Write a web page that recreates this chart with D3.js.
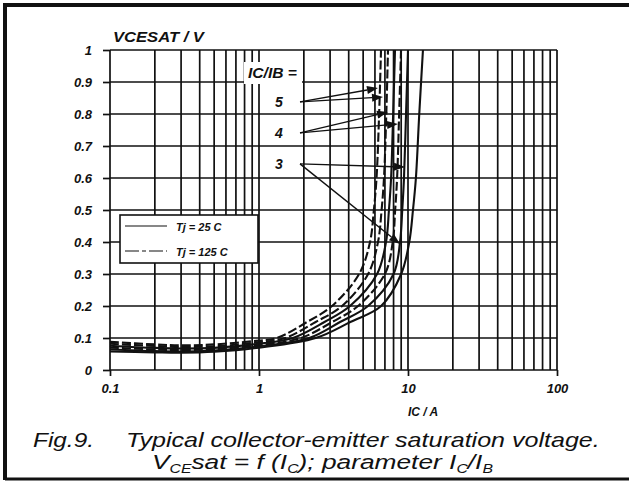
<!DOCTYPE html>
<html>
<head>
<meta charset="utf-8">
<script src="https://cdn.jsdelivr.net/npm/d3@7"></script>
<style>
  html, body { margin: 0; padding: 0; background: #fff; }
  svg { display: block; font-family: "Liberation Sans", Arial, sans-serif; }
</style>
</head>
<body>
<svg id="chart" width="629" height="485"></svg>
<script>
// tick values
const IC_LABELS = [0.1, 1, 10, 100];
const V_TICKS = [0, 0.1, 0.2, 0.3, 0.4, 0.5, 0.6, 0.7, 0.8, 0.9, 1];

// curves: [IC (A), VCEsat (V)]
const R5_125 = [[0.1, 0.088], [0.2, 0.080], [0.3, 0.077], [0.5, 0.080], [1, 0.092], [1.32, 0.1], [2.1, 0.15], [3.09, 0.2], [4.7, 0.3], [5.56, 0.4], [5.9, 0.5], [6.15, 0.6], [6.4, 0.8], [6.59, 1.0]];
const R4_125 = [[0.1, 0.082], [0.2, 0.075], [0.3, 0.072], [0.5, 0.074], [1, 0.087], [1.5, 0.1], [2.4, 0.15], [3.61, 0.2], [5.4, 0.3], [6.29, 0.4], [6.65, 0.5], [6.9, 0.6], [7.15, 0.8], [7.34, 1.0]];
const R5_25 = [[0.1, 0.076], [0.2, 0.069], [0.3, 0.067], [0.5, 0.069], [1, 0.082], [1.69, 0.1], [2.75, 0.15], [4.08, 0.2], [6.2, 0.3], [7.12, 0.4], [7.45, 0.5], [7.7, 0.6], [7.95, 0.8], [8.18, 1.0]];
const R3_125 = [[0.1, 0.070], [0.2, 0.064], [0.3, 0.062], [0.5, 0.065], [1, 0.078], [1.91, 0.1], [3.1, 0.15], [4.62, 0.2], [7.0, 0.3], [7.9, 0.4], [8.2, 0.5], [8.45, 0.6], [8.72, 0.8], [8.98, 1.0]];
const R4_25 = [[0.1, 0.064], [0.2, 0.059], [0.3, 0.058], [0.5, 0.061], [1, 0.074], [2.17, 0.1], [3.5, 0.15], [5.39, 0.2], [8.0, 0.3], [8.84, 0.4], [9.15, 0.5], [9.4, 0.6], [9.7, 0.8], [10.0, 1.0]];
const R3_25 = [[0.1, 0.058], [0.2, 0.055], [0.3, 0.054], [0.5, 0.057], [1, 0.070], [2.4, 0.1], [4.1, 0.15], [6.6, 0.2], [9.0, 0.3], [10.2, 0.4], [10.8, 0.5], [11.3, 0.6], [11.9, 0.8], [12.6, 1.0]];

const SERIES = [
  { pts: R5_125, hot: true },
  { pts: R4_125, hot: true },
  { pts: R5_25, hot: false },
  { pts: R3_125, hot: true },
  { pts: R4_25, hot: false },
  { pts: R3_25, hot: false },
];

// IC/IB labels and their pointer arrows
const RATIO_LABELS = ['5', '4', '3'];
const RATIO_LABEL_V = [0.838, 0.741, 0.644];
const RATIO_TIPS = [
  [[6.29, 0.881], [6.8, 0.853]],
  [[7.34, 0.806], [8.57, 0.769]],
  [[9.55, 0.634], [8.84, 0.394]],
];

const svg = d3.select('#chart');
const W = 629;
const H = 485;
const x = d3.scaleLog().domain([0.1, 100]).range([110, 557]);
const y = d3.scaleLinear().domain([0, 1]).range([370, 50]);
const INK = '#111';
const FAMILY = '"Liberation Sans", Arial, sans-serif';
const TICK_FONT = `italic bold 13px ${FAMILY}`;

// squeeze or widen a text node horizontally so it spans a given width
function fitWidth(sel, x0, width) {
  const w = sel.node().getComputedTextLength();
  const y0 = +sel.attr('y');
  sel.attr('x', 0).attr('y', 0)
    .attr('transform', `translate(${x0},${y0}) scale(${width / w},1)`);
}

svg.append('rect').attr('width', W).attr('height', H).attr('fill', '#fff');

// frame around the figure
svg.append('path')
  .attr('d', 'M5,480 V5 H629')
  .attr('fill', 'none').attr('stroke', INK).attr('stroke-width', 4);
svg.append('line')
  .attr('x1', 5).attr('x2', 629).attr('y1', 479).attr('y2', 479)
  .attr('stroke', INK).attr('stroke-width', 3);

// grid
const grid = svg.append('g');
grid.selectAll('line.v').data(x.ticks()).join('line')
  .attr('x1', d => x(d)).attr('x2', d => x(d))
  .attr('y1', y(1)).attr('y2', y(0))
  .attr('stroke', INK).attr('stroke-width', 1.7);
grid.selectAll('line.h').data(V_TICKS).join('line')
  .attr('x1', x(0.1)).attr('x2', x(100))
  .attr('y1', d => y(d)).attr('y2', d => y(d))
  .attr('stroke', INK).attr('stroke-width', 1.7);

// axes
svg.append('g')
  .attr('transform', `translate(0,${y(0)})`)
  .call(d3.axisBottom(x).tickValues(IC_LABELS).tickSize(6).tickPadding(8).tickFormat(d => String(d)))
  .call(a => a.select('.domain').remove())
  .call(a => a.selectAll('line').attr('stroke', INK).attr('stroke-width', 1.7))
  .call(a => a.selectAll('text').attr('fill', INK).style('font', TICK_FONT));

svg.append('g')
  .attr('transform', `translate(${x(0.1)},0)`)
  .call(d3.axisLeft(y).tickValues(V_TICKS).tickSize(7).tickPadding(11).tickFormat(d => String(d)))
  .call(a => a.select('.domain').remove())
  .call(a => a.selectAll('line').attr('stroke', INK).attr('stroke-width', 1.7))
  .call(a => a.selectAll('text').attr('fill', INK).style('font', TICK_FONT));

const yTitle = svg.append('text')
  .attr('y', 42)
  .style('font', `italic bold 14px ${FAMILY}`).attr('fill', INK)
  .text('VCESAT / V');
fitWidth(yTitle, 113, 91);

svg.append('text')
  .attr('x', 408).attr('y', 416)
  .style('font', `italic bold 12px ${FAMILY}`).attr('fill', INK)
  .text('IC / A');

// curves
const line = d3.line()
  .x(d => x(d[0]))
  .y(d => y(d[1]))
  .curve(d3.curveCatmullRom.alpha(0.5));

svg.append('g').selectAll('path').data(SERIES).join('path')
  .attr('d', d => line(d.pts))
  .attr('fill', 'none')
  .attr('stroke', INK)
  .attr('stroke-width', 2.1)
  .attr('stroke-dasharray', d => (d.hot ? '9,3' : null));

// ratio labels with white backing
const labelG = svg.append('g');
labelG.append('rect')
  .attr('x', 244).attr('y', 62).attr('width', 58).attr('height', 22).attr('fill', '#fff');
const ratioTitle = labelG.append('text')
  .attr('y', 78)
  .style('font', `italic bold 14px ${FAMILY}`).attr('fill', INK)
  .text('IC/IB =');
fitWidth(ratioTitle, 248, 49);

RATIO_LABELS.forEach((lab, i) => {
  const ly = y(RATIO_LABEL_V[i]);
  labelG.append('rect')
    .attr('x', 270).attr('y', ly - 11).attr('width', 20).attr('height', 20).attr('fill', '#fff');
  labelG.append('text')
    .attr('x', 275).attr('y', ly + 5)
    .style('font', `italic bold 14px ${FAMILY}`).attr('fill', INK)
    .text(lab);
  RATIO_TIPS[i].forEach(tip => {
    const x0 = 300;
    const y0 = ly;
    const x1 = x(tip[0]);
    const y1 = y(tip[1]);
    const ang = Math.atan2(y1 - y0, x1 - x0);
    const len = 11;
    const wid = 4;
    const bx = x1 - len * Math.cos(ang);
    const by = y1 - len * Math.sin(ang);
    labelG.append('line')
      .attr('x1', x0).attr('y1', y0).attr('x2', bx).attr('y2', by)
      .attr('stroke', INK).attr('stroke-width', 1.4);
    labelG.append('path')
      .attr('d', `M${x1},${y1} L${bx - wid * Math.sin(ang)},${by + wid * Math.cos(ang)} L${bx + wid * Math.sin(ang)},${by - wid * Math.cos(ang)} Z`)
      .attr('fill', INK);
  });
});

// legend
const legend = svg.append('g');
legend.append('rect')
  .attr('x', 120).attr('y', 215).attr('width', 138).attr('height', 48)
  .attr('fill', '#fff').attr('stroke', INK).attr('stroke-width', 1.6);
[{ label: 'Tj = 25 C', hot: false, cy: 226 }, { label: 'Tj = 125 C', hot: true, cy: 251 }].forEach(item => {
  legend.append('line')
    .attr('x1', 125).attr('x2', 167).attr('y1', item.cy).attr('y2', item.cy)
    .attr('stroke', INK).attr('stroke-width', 1.2)
    .attr('stroke-dasharray', item.hot ? '14,3,4,3' : null);
  legend.append('text')
    .attr('x', 176).attr('y', item.cy + 5)
    .style('font', `italic bold 11px ${FAMILY}`).attr('fill', INK)
    .text(item.label);
});

// caption
const capFont = `italic 20px ${FAMILY}`;
const fig = svg.append('text')
  .attr('y', 447)
  .style('font', capFont).attr('fill', INK)
  .text('Fig.9.');
fitWidth(fig, 33, 61);
const cap1 = svg.append('text')
  .attr('y', 447)
  .style('font', capFont).attr('fill', INK)
  .text('Typical collector-emitter saturation voltage.');
fitWidth(cap1, 126, 474);
const cap2 = svg.append('text')
  .attr('y', 469)
  .style('font', capFont).attr('fill', INK);
cap2.append('tspan').text('V');
cap2.append('tspan').attr('dy', 4).style('font-size', '12px').text('CE');
cap2.append('tspan').attr('dy', -4).text('sat = f (I');
cap2.append('tspan').attr('dy', 4).style('font-size', '12px').text('C');
cap2.append('tspan').attr('dy', -4).text('); parameter I');
cap2.append('tspan').attr('dy', 4).style('font-size', '12px').text('C');
cap2.append('tspan').attr('dy', -4).text('/I');
cap2.append('tspan').attr('dy', 4).style('font-size', '12px').text('B');
fitWidth(cap2, 152, 341);
</script>
</body>
</html>
